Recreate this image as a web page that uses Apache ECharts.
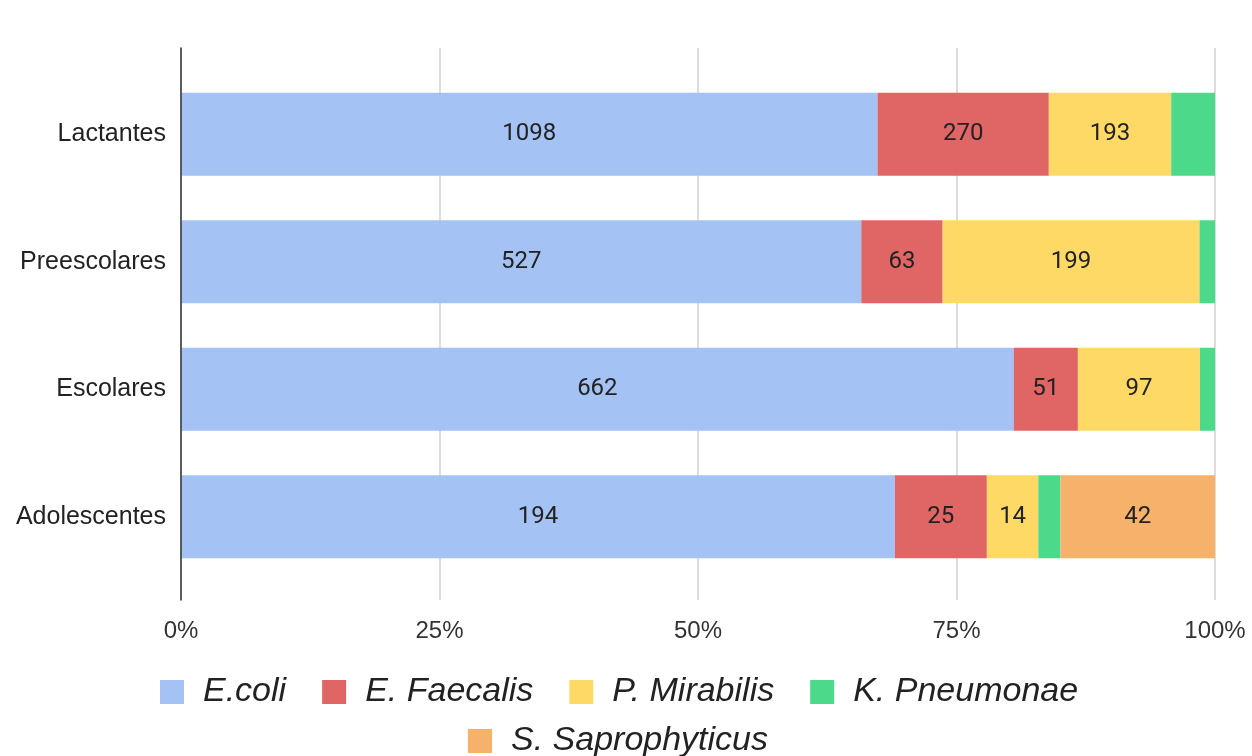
<!DOCTYPE html>
<html>
<head>
<meta charset="utf-8">
<script src="https://cdn.jsdelivr.net/npm/echarts@6/dist/echarts.min.js"></script>
<style>html,body{margin:0;padding:0;background:#fff;}#c{width:1252px;height:756px;}</style>
</head>
<body>
<div id="c"></div>
<script>
const categories = ['Lactantes', 'Preescolares', 'Escolares', 'Adolescentes'];
const seriesNames = ['E.coli', 'E. Faecalis', 'P. Mirabilis', 'K. Pneumonae', 'S. Saprophyticus'];
const ecoli = [1098, 527, 662, 194];
const faecalis = [270, 63, 51, 25];
const mirabilis = [193, 199, 97, 14];
const pneumonae = [69, 12, 12, 6];
const saprophyticus = [0, 0, 0, 42];
const colors = ['#a4c2f4', '#e06666', '#ffd966', '#4cd98a', '#f6b26b'];
const showLabel = [true, true, true, false, true];
const xTicks = ['0%', '25%', '50%', '75%', '100%'];

const raw = [ecoli, faecalis, mirabilis, pneumonae, saprophyticus];
const totals = categories.map((_, i) => raw.reduce((s, arr) => s + arr[i], 0));

const series = raw.map((arr, k) => ({
  name: seriesNames[k],
  type: 'bar',
  stack: 'total',
  xAxisIndex: 1,
  yAxisIndex: 1,
  barWidth: '65%',
  itemStyle: { color: colors[k] },
  label: {
    show: showLabel[k],
    position: 'inside',
    color: '#222',
    fontSize: 24,
    fontFamily: 'Roboto',
    formatter: p => (arr[p.dataIndex] > 0 ? String(arr[p.dataIndex]) : '')
  },
  data: arr.map((v, i) => (v / totals[i]) * 100)
}));

const chart = echarts.init(document.getElementById('c'));
chart.setOption({
  animation: false,
  color: colors,
  grid: [
    { left: 181, right: 37, top: 48, bottom: 156 },
    { left: 181, right: 37, top: 70.5, bottom: 175.5 }
  ],
  xAxis: [
    {
      gridIndex: 0, type: 'value', min: 0, max: 100, interval: 25,
      axisLine: { show: false }, axisTick: { show: false },
      splitLine: { lineStyle: { color: '#d0d0d0', width: 1.5 } },
      axisLabel: {
        margin: 19, color: '#333', fontSize: 24, fontFamily: 'Liberation Sans',
        formatter: v => xTicks[Math.round(v / 25)]
      }
    },
    { gridIndex: 1, type: 'value', min: 0, max: 100, show: false }
  ],
  yAxis: [
    {
      gridIndex: 0, type: 'value', min: 0, max: 1, z: 10,
      axisLine: { show: true, lineStyle: { color: '#333', width: 1.5 } },
      axisTick: { show: false }, axisLabel: { show: false }, splitLine: { show: false }
    },
    {
      gridIndex: 1, type: 'category', data: categories, inverse: true,
      axisLine: { show: false }, axisTick: { show: false },
      axisLabel: { margin: 15, color: '#222', fontSize: 25, fontFamily: 'Liberation Sans' }
    }
  ],
  legend: [
    {
      data: seriesNames.slice(0, 4), left: 155, top: 670,
      itemWidth: 24, itemHeight: 24, itemGap: 36, icon: 'rect',
      textStyle: { fontSize: 34, fontStyle: 'italic', color: '#222', fontFamily: 'Liberation Sans', padding: [0, 0, 0, 14] }
    },
    {
      data: seriesNames.slice(4), left: 463, top: 719,
      itemWidth: 24, itemHeight: 24, itemGap: 36, icon: 'rect',
      textStyle: { fontSize: 34, fontStyle: 'italic', color: '#222', fontFamily: 'Liberation Sans', padding: [0, 0, 0, 14] }
    }
  ],
  series: series
});
</script>
</body>
</html>
